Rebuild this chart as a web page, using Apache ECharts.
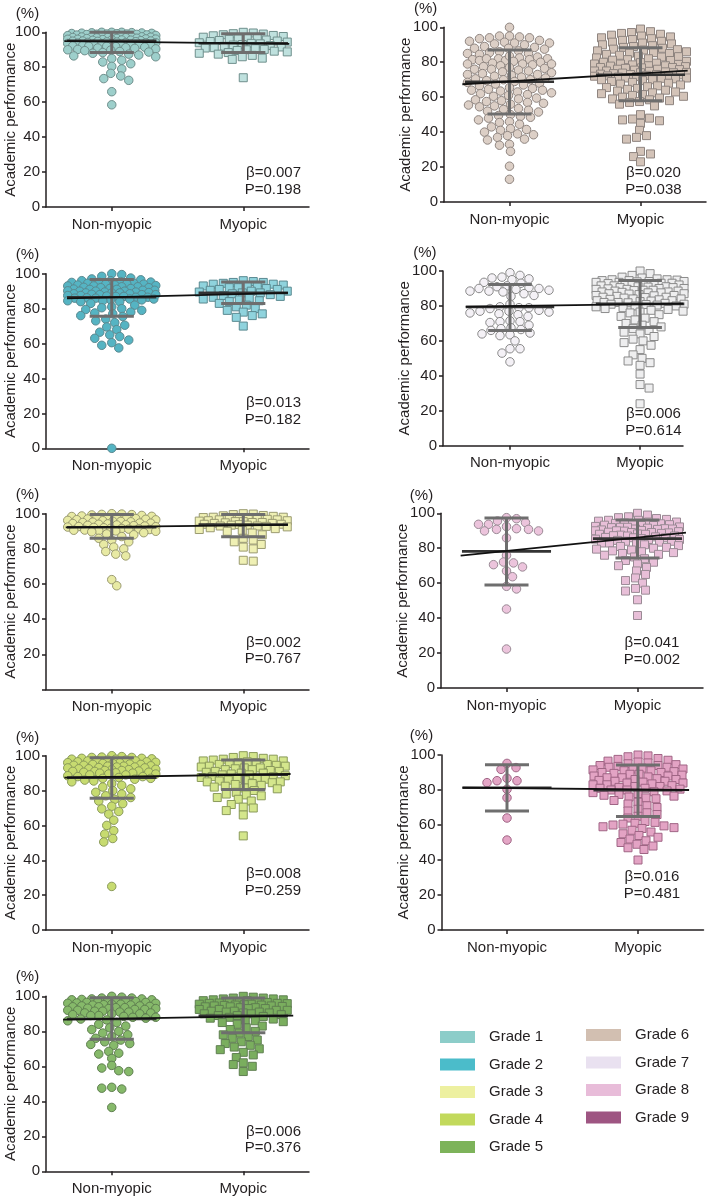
<!DOCTYPE html>
<html><head><meta charset="utf-8">
<script src="https://cdn.jsdelivr.net/npm/echarts@6/dist/echarts.min.js"></script>
<style>html,body{margin:0;padding:0;background:#fff}#c{width:712px;height:1196px}</style>
</head><body><div id="c"></div><script>
// ---------------- DATA ----------------
const categories = ['Non-myopic', 'Myopic'];
const yTicks = [0, 20, 40, 60, 80, 100];
const grades = ['Grade 1','Grade 2','Grade 3','Grade 4','Grade 5','Grade 6','Grade 7','Grade 8','Grade 9'];
const gradeColors = ['#8ccdc9','#4bbcca','#edf0a0','#c2d95c','#7db35a','#d2bfb1','#e9e1f0','#e8bcd9','#9e5582'];

const g1NonMyopic = [100,100,100,99.8,99.7,99.6,99.5,99.4,99.3,99.2,99,99,98.9,98.8,98.7,98.5,98.4,98.2,98.1,98,98,97.8,97.6,97.5,97.4,97.3,97.2,97,97,96.9,96.8,96.6,96.5,96.4,96.2,96.1,96,96,95.8,95.7,95.6,95.5,95.4,95.2,95,95,94.9,94.8,94.6,94.5,94.4,94.2,94.1,94,94,93.8,93.6,93.5,93.4,93.2,93,93,92.8,92.6,92.5,92.2,92,92,91.8,91.5,91.2,91,90.8,90.5,90.2,90,89.8,89.5,89,88.7,88.4,88,87.5,87,86.5,86,85,84,83,82,80.5,79,76.5,75,73.5,72.5,66,58.5];
const g1Myopic = [100,99.6,99.2,99,98.6,98.2,98,97.6,97.2,97,96.6,96.2,96,95.6,95.3,95,94.7,94.4,94,93.7,93.4,93,92.7,92.4,92,91.6,91.2,91,90.6,90.2,90,89.6,89.2,88.8,88.4,88,87.5,86.8,86,85.2,84.5,74];

const g2NonMyopic = [100,99.5,98.5,97.5,97,96.5,96,96,95.5,95.2,95,95,94.5,94.5,94.2,94,94,93.5,93.5,93.2,93,93,92.5,92.5,92.2,92,92,91.5,91.5,91.2,91,91,90.5,90.5,90.2,90,90,90,89.5,89.5,89.2,89,89,89,88.5,88.5,88.2,88,88,88,87.5,87.5,87.2,87,87,86.5,86.5,86.2,86,86,85.5,85.5,85,85,84.5,84.5,84,84,83,82,81,80.5,80,79.5,79,78,77.5,77,76,75.5,74,73,72,70.5,69.5,68,66.5,65,64,63,62,60.5,59,57.5,0];
const g2Myopic = [96,95.5,95,95,94.5,94,94,93.5,93,93,92.5,92,92,91.5,91,91,90.5,90,90,89.5,89,89,88.5,88,87.5,87,86.5,86,85.5,85,84.5,84,83,82,81,80,79,78,77,76,75,70];

const g3NonMyopic = [100,99.8,99.6,99.5,99.3,99,98.7,98.5,98.4,98,97.8,97.6,97.5,97.2,97,96.8,96.6,96.5,96.2,96,95.7,95.6,95.4,95.2,95,94.7,94.6,94.4,94.2,94,93.7,93.6,93.4,93.2,93,92.7,92.6,92.4,92.2,92,91.7,91.6,91.4,91.2,91,90.7,90.6,90.4,90.2,90,89.7,89.2,88.5,88,87,86,85,84,82.5,81,80,78.5,77,76,62.5,59];
const g3Myopic = [100,99.8,99.5,99,98.8,98.5,98,98,97.8,97.5,97.5,97,97,96.8,96.5,96.5,96,96,95.8,95.5,95.5,95,95,94.8,94.5,94.5,94,94,93.8,93.5,93.5,93,93,92.8,92.5,92,91.5,91,90.5,90,89,88,86,85,84,82.5,81,80,73.5,73];

const g4NonMyopic = [100,99.5,99.2,99,99,98.5,98.5,98.2,98,98,97.5,97.5,97.2,97,97,96.5,96.5,96.2,96,96,95.5,95.5,95.2,95,95,94.5,94.5,94.2,94,94,93.5,93.5,93.2,93,93,92.5,92.5,92.2,92,92,91.5,91.5,91.2,91,91,90.5,90.5,90.2,90,90,89.5,89.5,89,89,88.5,88,88,87.5,87,87,86.5,86,85.5,85,84,83,82,81,80,79,78,77,76,75,74,72.5,71,69.5,68,66.5,63,60,57,55,52.5,50.5,25];
const g4Myopic = [100,99.5,99,98.5,98,98,97.5,97,97,96.5,96,96,95.5,95,95,94.5,94,94,93.5,93,93,92.5,92,92,91.5,91,91,90.5,90,90,89.5,89,89,88.5,88,88,87.5,87,87,86.5,86,86,85.5,85,85,84.5,84,83.5,83,82.5,82,81.5,81,80,79,78,77.5,77,76,75,74,72,70.5,70,68.5,66,54];

const g5NonMyopic = [100,99.5,99,99,98.5,98.5,98.2,98,98,97.5,97.5,97.2,97,97,96.5,96.5,96.2,96,96,95.5,95.5,95.2,95,95,94.5,94.5,94.2,94,94,93.5,93.5,93.2,93,93,92.5,92.5,92,92,91.5,91.5,91,91,90.5,90.5,90,90,89.5,89,89,88.5,88,88,87.5,87,86.5,86,85,84,83,82,81,80,79,78,77,76,75,74,73,72.5,72,68.5,67.5,67,64.5,60.5,59,57.5,57,48,47.5,47,36.5];
const g5Myopic = [100,99.5,99,99,98.5,98.5,98,98,97.5,97.5,97,97,96.5,96.5,96.2,96,96,95.8,95.5,95.5,95.2,95,95,94.8,94.5,94.5,94.2,94,94,93.5,93.5,93,93,92.5,92.5,92,92,91.5,91.5,91,91,90.5,90.5,90,90,89.5,89,89,88.5,88,87.5,87,86.5,86,85.5,85,84,83,82,81,80,79,78,77,76,75,74,73,72,71,70,69.5,68,66.5,65,62,61,60,57];

const g6NonMyopic = [100,95,94.5,94,94,93.5,95,92,91.5,91,91,90.5,92.5,90,89,88.5,88,88,87.5,86,85.5,85,85,84.5,86.5,83,82.5,82,82,81.5,81,81,83.5,82,81.5,80,79.5,79,79,78.5,80.5,79,78,77,76.5,76,76,75.5,77.5,75,74,73.5,73,73,72.5,74.5,72,71,70.5,70,70,69.5,71.5,69,68,67.5,67,66.5,68.5,65,64.5,64,64,63.5,65.5,63,62,61.5,61,60.5,62.5,59,58.5,58,57.5,59.5,57,56,55.5,55,54.5,56.5,53,52.5,52,51.5,53.5,50,49.5,49,48.5,48,47,46,45.5,44.5,43,42,41.5,41,40,39,38.5,38,37,36,35.5,33,32.5,29,20.5,13];
const g6Myopic = [99,97.5,97,96.5,96,95.5,95,94.5,94,93.5,93,92.5,92,91.5,91,90.5,90,89.5,89,88.5,88,87.5,87.2,87,86.5,86,85.5,85.2,85,84.5,84,83.5,83.2,83,82.5,82,81.5,81.2,81,80.5,80,79.8,79.5,79,79,78.8,78.5,78,78,77.8,77.5,77,77,76.8,76.5,76,76,75.8,75.5,75,75,74.8,74.5,74.2,74,74,73.8,73.5,73.2,73,73,72.8,72.5,72.2,72,72,71.8,71.5,71,71,70.8,70.5,70,70,69.5,69,68.5,68,67.5,67,66.5,66,65.5,65,64.5,64,63.5,63,62.5,62,61.5,61,60.5,60,59.5,59,58.5,58,57.5,57,56,55,50,48,47.5,47,46.5,45,41,38,37,36,29,27.5,26,23];

const g7NonMyopic = [99,97.5,96.5,96,95.5,95,93.5,93,91.5,91,90.5,90,90,89.5,89,88.5,88.5,88,87,86,85.5,81,79.5,79,79,78.5,77.5,77,77,76.5,76,75.5,75,74,71.5,71,71,70.5,69,67.5,67,66.5,66,64.5,64,63.5,63,60,55.5,55.5,53,48];
const g7Myopic = [100,98.5,97.5,96.5,96,95.5,95,95,94.8,94.5,94.5,94,94,93.8,93.5,93.5,93,93,92.8,92.5,92.5,92,92,91.8,91.5,91.5,91,91,90.8,90.5,90.5,90,90,89.8,89.5,89.5,89,89,88.8,88.5,88.5,88,88,87.8,87.5,87.5,87,87,86.8,86.5,86,86,85.8,85.5,85,85,84.8,84.5,84,84,83.8,83.5,83,83,82.8,82.5,82,82,81.8,81.5,81,81,80.8,80.5,80,80,79.5,79,78.5,78,77.5,77,76.5,76,75,74,73,72,71,70,69,68,67,66,65,64,62.5,61,60,59,57.5,55,52,50,48.5,47.5,46,41,35,33,24];

const g8NonMyopic = [97.5,96.9,95.6,94.7,93.7,93.7,92.4,91.2,90.8,90.8,89.9,89.9,85.9,76,72.1,71.6,70.6,69.3,67,63.7,58.2,56.7,45.2,22.3];
const g8Myopic = [100,99,98,97.5,97,96.5,96,96,95.5,95,95,94.5,94.2,94,94,93.5,93.2,93,93,92.5,92.2,92,92,91.8,91.5,91.2,91,91,90.8,90.5,90.2,90,90,89.8,89.5,89.2,89,89,88.8,88.5,88.2,88,88,87.5,87.2,87,87,86.5,86.2,86,86,85.5,85.2,85,85,84.5,84,84,83.5,83,83,82.5,82,81.5,81,80.5,80,79.5,79,78.5,78,77.5,77,76.5,76,75,74,73,72,71,70,69,67,65,63,61.5,60,57,56,55.5,50.5,41.5];

const g9NonMyopic = [95.2,92.8,91.8,86.7,85.3,85.3,84.2,80.4,75.6,64,51.4];
const g9Myopic = [100,99.5,99,98,97.5,97,96.5,96,95.5,95,94.5,94,94,93.5,93,93,92.5,92,92,91.5,91,91,90.5,90,90,89.5,89,89,88.5,88,88,87.5,87,87,86.5,86,86,85.5,85,85,84.5,84,84,83.5,83,83,82.5,82,82,81.5,81,81,80.5,80,80,79.5,79,78.5,78,77.5,77,76.5,76,75.5,75,74,73,72,71,70,69,68,67,66,65,64,62,61.5,61,60.5,60,59.5,59,58.5,58,57,56,55,54,53,52,51,50,49,48,47,46,40];

// group statistics (grade 1..9)
const meanNon   = [95.2, 86.5, 92.3, 87.4, 87.0, 68.8, 79.4, 78.2, 81.3];
const sdLowNon  = [88.5, 75.7, 86.0, 75.6, 75.4, 50.4, 65.9, 59.0, 68.0];
const sdHighNon = [100,  96.7, 99.5, 98.8, 99.2, 87.0, 92.3, 97.3, 94.4];
const meanMyo   = [93.7, 89.0, 93.8, 89.1, 88.8, 72.8, 81.2, 85.5, 79.9];
const sdLowMyo  = [88.4, 83.0, 86.9, 80.6, 79.2, 58.0, 67.6, 74.4, 64.8];
const sdHighMyo = [99.2, 95.2, 99.6, 97.5, 99.0, 88.3, 94.6, 96.2, 94.3];
const regStart  = [95.0, 85.9, 92.2, 87.4, 86.7, 67.4, 79.6, 75.8, 81.3];
const regEnd    = [93.4, 89.0, 93.7, 89.5, 89.0, 75.2, 81.3, 88.9, 80.0];
const betaText  = ['0.007','0.013','0.002','0.008','0.006','0.020','0.006','0.041','0.016'];
const pText     = ['0.198','0.182','0.767','0.259','0.376','0.038','0.614','0.002','0.481'];

const nonMyopicSets = [g1NonMyopic,g2NonMyopic,g3NonMyopic,g4NonMyopic,g5NonMyopic,g6NonMyopic,g7NonMyopic,g8NonMyopic,g9NonMyopic];
const myopicSets = [g1Myopic,g2Myopic,g3Myopic,g4Myopic,g5Myopic,g6Myopic,g7Myopic,g8Myopic,g9Myopic];

// ---------------- LAYOUT / STYLE ----------------
const FONT = '"Liberation Sans", Arial, Helvetica, sans-serif';
const TXT = '#231f20';
const layout = [
  {left:46,   top:32.3,  width:263, height:174.7, xMin:0.5,   xMax:2.5,  statX:301,   statAlign:'right',  statY:173,   pctX:27.5,  pctY:13.5, zero:true,  side:'L'},
  {left:46,   top:273.7, width:263, height:174.6, xMin:0.5,   xMax:2.5,  statX:301,   statAlign:'right',  statY:403.3, pctX:27.5,  pctY:255,  zero:true,  side:'L'},
  {left:46,   top:513.7, width:263, height:175.8, xMin:0.5,   xMax:2.5,  statX:301,   statAlign:'right',  statY:642.7, pctX:27.5,  pctY:495,  zero:false, side:'L'},
  {left:46,   top:755.7, width:263, height:174.3, xMin:0.5,   xMax:2.5,  statX:301,   statAlign:'right',  statY:874,   pctX:27.5,  pctY:738.3,zero:true,  side:'L'},
  {left:46,   top:996.3, width:263, height:175,   xMin:0.5,   xMax:2.5,  statX:301,   statAlign:'right',  statY:1131.7,pctX:27.5,  pctY:976.7,zero:true,  side:'L'},
  {left:444,  top:27.3,  width:262, height:174.7, xMin:0.5,   xMax:2.5,  statX:653.5, statAlign:'center', statY:173.3, pctX:425.7, pctY:9,    zero:true,  side:'R'},
  {left:443,  top:271,   width:240, height:174.7, xMin:0.485, xMax:2.33, statX:653.5, statAlign:'center', statY:414,   pctX:424.8, pctY:253.3,zero:true,  side:'R'},
  {left:441,  top:513.3, width:262, height:174.7, xMin:0.5,   xMax:2.5,  statX:652,   statAlign:'center', statY:643.3, pctX:421.5, pctY:496,  zero:true,  side:'R'},
  {left:441.5,top:755,   width:262, height:175,   xMin:0.5,   xMax:2.5,  statX:652,   statAlign:'center', statY:877.3, pctX:421.5, pctY:736,  zero:true,  side:'R'}
];
const regX = [[0.64,2.35],[0.66,2.34],[0.65,2.34],[0.64,2.36],[0.63,2.38],[0.64,2.36],[0.66,2.33],[0.65,2.37],[0.66,2.39]];
const halfWidth = [[44,44],[44,44],[44,44],[44,42],[44,44],[42,46],[40,44],[40,42],[38,45]];
const circleFill = ['#9dcfcb','#55b4c3','#e8eaa4','#c7db70','#86b96a','#dccfc6','#f4f1f6','#ecc4dc','#e4a6c6'];
const squareFill = ['#bfe1de','#8fd3dd','#eff0b4','#d4e68c','#7aae5e','#d3c3b8','#eeeeef','#e8bfd8','#e3a3c4'];
const borderCol  = ['#6f8f8c','#5a8990','#9a9a70','#8a9a5a','#5f7f50','#8f8580','#8a8a8a','#9a8a95','#a06585'];
const SPACE_X = 10, SPACE_Y = 7;

// deterministic beeswarm layout in pixel space (elliptical spacing) -> value offsets
function swarm(values, center, pxX, pxY, maxHalf) {
  const order = values.map((v, i) => i).sort((a, b) => values[b] - values[a] || a - b);
  const placed = [];
  const out = new Array(values.length);
  order.forEach((idx, k) => {
    const y = values[idx] * pxY;
    const near = placed.filter(p => Math.abs(p.y - y) < SPACE_Y);
    const cands = [0];
    for (let s = 1; s <= maxHalf; s += 1) { if (k % 2) cands.push(s, -s); else cands.push(-s, s); }
    let best = 0, bestScore = -1;
    for (const c of cands) {
      let minD = Infinity;
      for (const p of near) {
        const dx = (p.x - c) / SPACE_X, dy = (p.y - y) / SPACE_Y;
        const dd = Math.sqrt(dx * dx + dy * dy);
        if (dd < minD) minD = dd;
      }
      if (minD >= 1) { best = c; break; }
      if (minD > bestScore) { bestScore = minD; best = c; }
    }
    placed.push({x: best, y});
    out[idx] = [center + best / pxX, values[idx]];
  });
  return out;
}

const CAPW = 0.168, MEANW = 0.34;
function renderBars(params, api) {
  const x = api.value(0), m = api.value(1), lo = api.value(2), hi = api.value(3);
  const P = (a, b) => api.coord([a, b]);
  const sd = {stroke:'#6e6e6e', lineWidth:3};
  const mn = {stroke:'#333333', lineWidth:2.6};
  const seg = (p, q, st) => ({type:'line', shape:{x1:p[0], y1:p[1], x2:q[0], y2:q[1]}, style:st});
  return {type:'group', children:[
    seg(P(x, lo), P(x, hi), sd),
    seg(P(x - CAPW, lo), P(x + CAPW, lo), sd),
    seg(P(x - CAPW, hi), P(x + CAPW, hi), sd),
    seg(P(x - MEANW, m), P(x + MEANW, m), mn)
  ]};
}

const grid = [], xAxis = [], yAxis = [], series = [], graphic = [];
layout.forEach((L, i) => {
  grid.push({left:L.left, top:L.top, width:L.width, height:L.height, containLabel:false, outerBoundsMode:'none'});
  xAxis.push({
    type:'value', gridIndex:i, min:L.xMin, max:L.xMax,
    axisLine:{show:true, onZero:false, lineStyle:{color:TXT, width:1.5}},
    axisTick:{show:true, length:4, lineStyle:{color:TXT, width:1.5}, customValues:[1,2]},
    axisLabel:{show:true, customValues:[1,2], margin:10, fontSize:15, fontFamily:FONT, color:TXT,
      formatter: v => categories[Math.round(v) - 1] || ''},
    splitLine:{show:false}
  });
  yAxis.push({
    type:'value', gridIndex:i, min:0, max:100, interval:20,
    name:'Academic performance', nameLocation:'middle', nameGap: L.side === 'L' ? 28 : 30.5,
    nameMoveOverlap:false,
    nameTextStyle:{fontSize:15, fontFamily:FONT, color:TXT},
    axisLine:{show:true, lineStyle:{color:TXT, width:1.5}},
    axisTick:{show:true, length:4, lineStyle:{color:TXT, width:1.5}},
    axisLabel:{margin:6, fontSize:15, fontFamily:FONT, color:TXT,
      formatter: v => (v === 0 && !L.zero) ? '' : String(v)},
    splitLine:{show:false}
  });
  const pxX = L.width / (L.xMax - L.xMin), pxY = L.height / 100;
  series.push({
    type:'scatter', name:grades[i], xAxisIndex:i, yAxisIndex:i, symbol:'circle', symbolSize:8.5, clip:false, z:2,
    itemStyle:{color:circleFill[i], borderColor:borderCol[i], borderWidth:1, opacity:1},
    data: swarm(nonMyopicSets[i], 1, pxX, pxY, halfWidth[i][0])
  });
  series.push({
    type:'scatter', name:grades[i], xAxisIndex:i, yAxisIndex:i, symbol:'rect', symbolSize:8, clip:false, z:2,
    itemStyle:{color:squareFill[i], borderColor:borderCol[i], borderWidth:1, opacity:1},
    data: swarm(myopicSets[i], 2, pxX, pxY, halfWidth[i][1])
  });
  series.push({
    type:'custom', xAxisIndex:i, yAxisIndex:i, z:3, clip:false, silent:true,
    renderItem: renderBars, encode:{x:0, y:[1,2,3]},
    data:[[1, meanNon[i], sdLowNon[i], sdHighNon[i]], [2, meanMyo[i], sdLowMyo[i], sdHighMyo[i]]]
  });
  series.push({
    type:'line', xAxisIndex:i, yAxisIndex:i, z:4, symbol:'none', silent:true,
    lineStyle:{color:'#111111', width:1.8},
    data:[[regX[i][0], regStart[i]], [regX[i][1], regEnd[i]]]
  });
  graphic.push({type:'text', x:L.pctX, y:L.pctY, silent:true,
    style:{text:'(%)', fontSize:15, fontFamily:FONT, fill:TXT, align:'center', verticalAlign:'middle', textAlign:'center', textVerticalAlign:'middle'}});
  graphic.push({type:'text', x:L.statX, y:L.statY, silent:true,
    style:{text:'β=' + betaText[i], fontSize:15, fontFamily:FONT, fill:TXT, align:L.statAlign, verticalAlign:'middle', textAlign:L.statAlign, textVerticalAlign:'middle'}});
  graphic.push({type:'text', x:L.statX, y:L.statY + 16.5, silent:true,
    style:{text:'P=' + pText[i], fontSize:15, fontFamily:FONT, fill:TXT, align:L.statAlign, verticalAlign:'middle', textAlign:L.statAlign, textVerticalAlign:'middle'}});
});

const legendBase = {orient:'vertical', icon:'rect', itemWidth:35, itemHeight:12, itemGap:11.5, selectedMode:false,
  padding:0, textStyle:{fontSize:15, fontFamily:FONT, color:TXT, lineHeight:16, padding:[0,0,0,9]}};
const legend = [
  Object.assign({}, legendBase, {left:440, top:1029,
    data: grades.slice(0,5).map((g, k) => ({name:g, itemStyle:{color:gradeColors[k], borderWidth:0}}))}),
  Object.assign({}, legendBase, {left:586, top:1027,
    data: grades.slice(5).map((g, k) => ({name:g, itemStyle:{color:gradeColors[k+5], borderWidth:0}}))})
];

const chart = echarts.init(document.getElementById('c'), null, {renderer:'canvas'});
chart.setOption({animation:false, backgroundColor:'#ffffff', grid, xAxis, yAxis, series, legend, graphic});
</script></body></html>
